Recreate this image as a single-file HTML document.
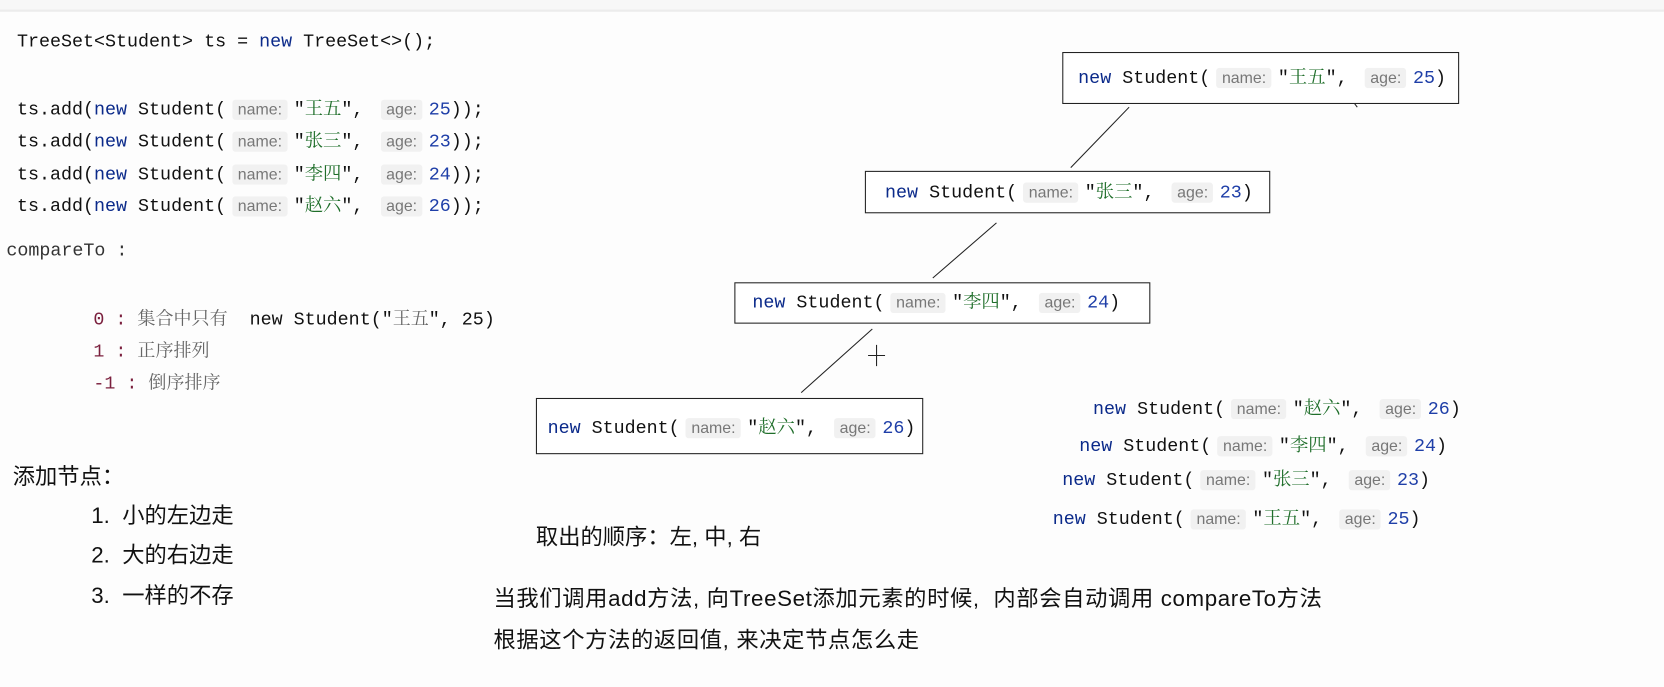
<!DOCTYPE html>
<html><head><meta charset="utf-8">
<style>
html,body{margin:0;padding:0;background:#fdfdfd;width:1664px;height:686px;overflow:hidden}
#w{position:absolute;left:0;top:0;width:1568px;height:647px;transform:scale(1.0612);transform-origin:0 0}
.bar{position:absolute;left:0;top:0;width:1568px;height:9px;background:#f7f7f7;border-bottom:2px solid #ececec}
.c{position:absolute;font-family:"Liberation Mono","Noto Sans CJK SC",monospace;font-size:17.3px;color:#111;white-space:pre;line-height:22px}
.k{color:#0b2a8a}
.n{color:#1f3fa8}
.s{color:#1f6e2a;font-family:"Noto Serif CJK SC","Liberation Mono",serif}
.h{font-family:"Liberation Sans",sans-serif;font-size:15px;color:#777;background:#f1f1f1;padding:1px 5px;border-radius:3px;margin:0 6px}
.box{position:absolute;border:1.3px solid #222;background:#fff}
.t{position:absolute;font-family:"Liberation Sans","Noto Sans CJK SC",sans-serif;color:#111;white-space:pre}
.g{font-family:"Noto Serif CJK SC",serif;color:#666;font-size:17px}
.m{color:#7a1f3d}
</style></head><body><div id="w">
<div class="bar"></div>

<div class="c" style="left:16px;top:30px">TreeSet&lt;Student&gt; ts = <span class="k">new</span> TreeSet&lt;&gt;();</div>
<div class="c" style="left:16px;top:90px">ts.add(<span class="k">new</span> Student(<span class="h">name:</span>"<span class="s">王五</span>", <span class="h">age:</span><span class="n">25</span>));</div>
<div class="c" style="left:16px;top:120px">ts.add(<span class="k">new</span> Student(<span class="h">name:</span>"<span class="s">张三</span>", <span class="h">age:</span><span class="n">23</span>));</div>
<div class="c" style="left:16px;top:151px">ts.add(<span class="k">new</span> Student(<span class="h">name:</span>"<span class="s">李四</span>", <span class="h">age:</span><span class="n">24</span>));</div>
<div class="c" style="left:16px;top:181px">ts.add(<span class="k">new</span> Student(<span class="h">name:</span>"<span class="s">赵六</span>", <span class="h">age:</span><span class="n">26</span>));</div>

<div class="c" style="left:6px;top:227px;color:#333">compareTo :</div>
<div class="c" style="left:88px;top:288px"><span class="m">0 :</span> <span class="g">集合中只有</span>  new Student("<span class="g">王五</span>", 25)</div>
<div class="c" style="left:88px;top:318px"><span class="m">1 :</span> <span class="g">正序排列</span></div>
<div class="c" style="left:88px;top:348px"><span class="m">-1 :</span> <span class="g">倒序排序</span></div>

<div class="t" style="left:12px;top:433px;font-size:21px">添加节点：</div>
<div class="t" style="left:86px;top:470px;font-size:21px">1.  小的左边走</div>
<div class="t" style="left:86px;top:507px;font-size:21px">2.  大的右边走</div>
<div class="t" style="left:86px;top:545px;font-size:21px">3.  一样的不存</div>

<svg style="position:absolute;left:0;top:0" width="1568" height="647">
<g stroke="#222" stroke-width="1">
<line x1="1064" y1="101" x2="1009" y2="158"/>
<line x1="939" y1="210" x2="879" y2="262"/>
<line x1="822" y1="310" x2="755" y2="370"/>
<line x1="1276" y1="97" x2="1279" y2="101"/>
<line x1="826" y1="325" x2="826" y2="345"/>
<line x1="818" y1="335" x2="834" y2="335"/>
</g></svg>

<div class="box" style="left:1001px;top:49px;width:372px;height:47px"></div>
<div class="c" style="left:1016px;top:60px"><span class="k">new</span> Student(<span class="h">name:</span>"<span class="s">王五</span>", <span class="h">age:</span><span class="n">25</span>)</div>
<div class="box" style="left:815px;top:161px;width:380px;height:38px"></div>
<div class="c" style="left:834px;top:168px"><span class="k">new</span> Student(<span class="h">name:</span>"<span class="s">张三</span>", <span class="h">age:</span><span class="n">23</span>)</div>
<div class="box" style="left:692px;top:266px;width:390px;height:37px"></div>
<div class="c" style="left:709px;top:272px"><span class="k">new</span> Student(<span class="h">name:</span>"<span class="s">李四</span>", <span class="h">age:</span><span class="n">24</span>)</div>
<div class="box" style="left:505px;top:375px;width:363px;height:51px"></div>
<div class="c" style="left:516px;top:390px"><span class="k">new</span> Student(<span class="h">name:</span>"<span class="s">赵六</span>", <span class="h">age:</span><span class="n">26</span>)</div>

<div class="c" style="left:1030px;top:372px"><span class="k">new</span> Student(<span class="h">name:</span>"<span class="s">赵六</span>", <span class="h">age:</span><span class="n">26</span>)</div>
<div class="c" style="left:1017px;top:407px"><span class="k">new</span> Student(<span class="h">name:</span>"<span class="s">李四</span>", <span class="h">age:</span><span class="n">24</span>)</div>
<div class="c" style="left:1001px;top:439px"><span class="k">new</span> Student(<span class="h">name:</span>"<span class="s">张三</span>", <span class="h">age:</span><span class="n">23</span>)</div>
<div class="c" style="left:992px;top:476px"><span class="k">new</span> Student(<span class="h">name:</span>"<span class="s">王五</span>", <span class="h">age:</span><span class="n">25</span>)</div>

<div class="t" style="left:505px;top:490px;font-size:21px">取出的顺序：左, 中, 右</div>
<div class="t" style="left:465px;top:548px;font-size:21px;letter-spacing:0.6px">当我们调用add方法, 向TreeSet添加元素的时候,  内部会自动调用 compareTo方法</div>
<div class="t" style="left:465px;top:587px;font-size:21px;letter-spacing:0.6px">根据这个方法的返回值, 来决定节点怎么走</div>
</div></body></html>
